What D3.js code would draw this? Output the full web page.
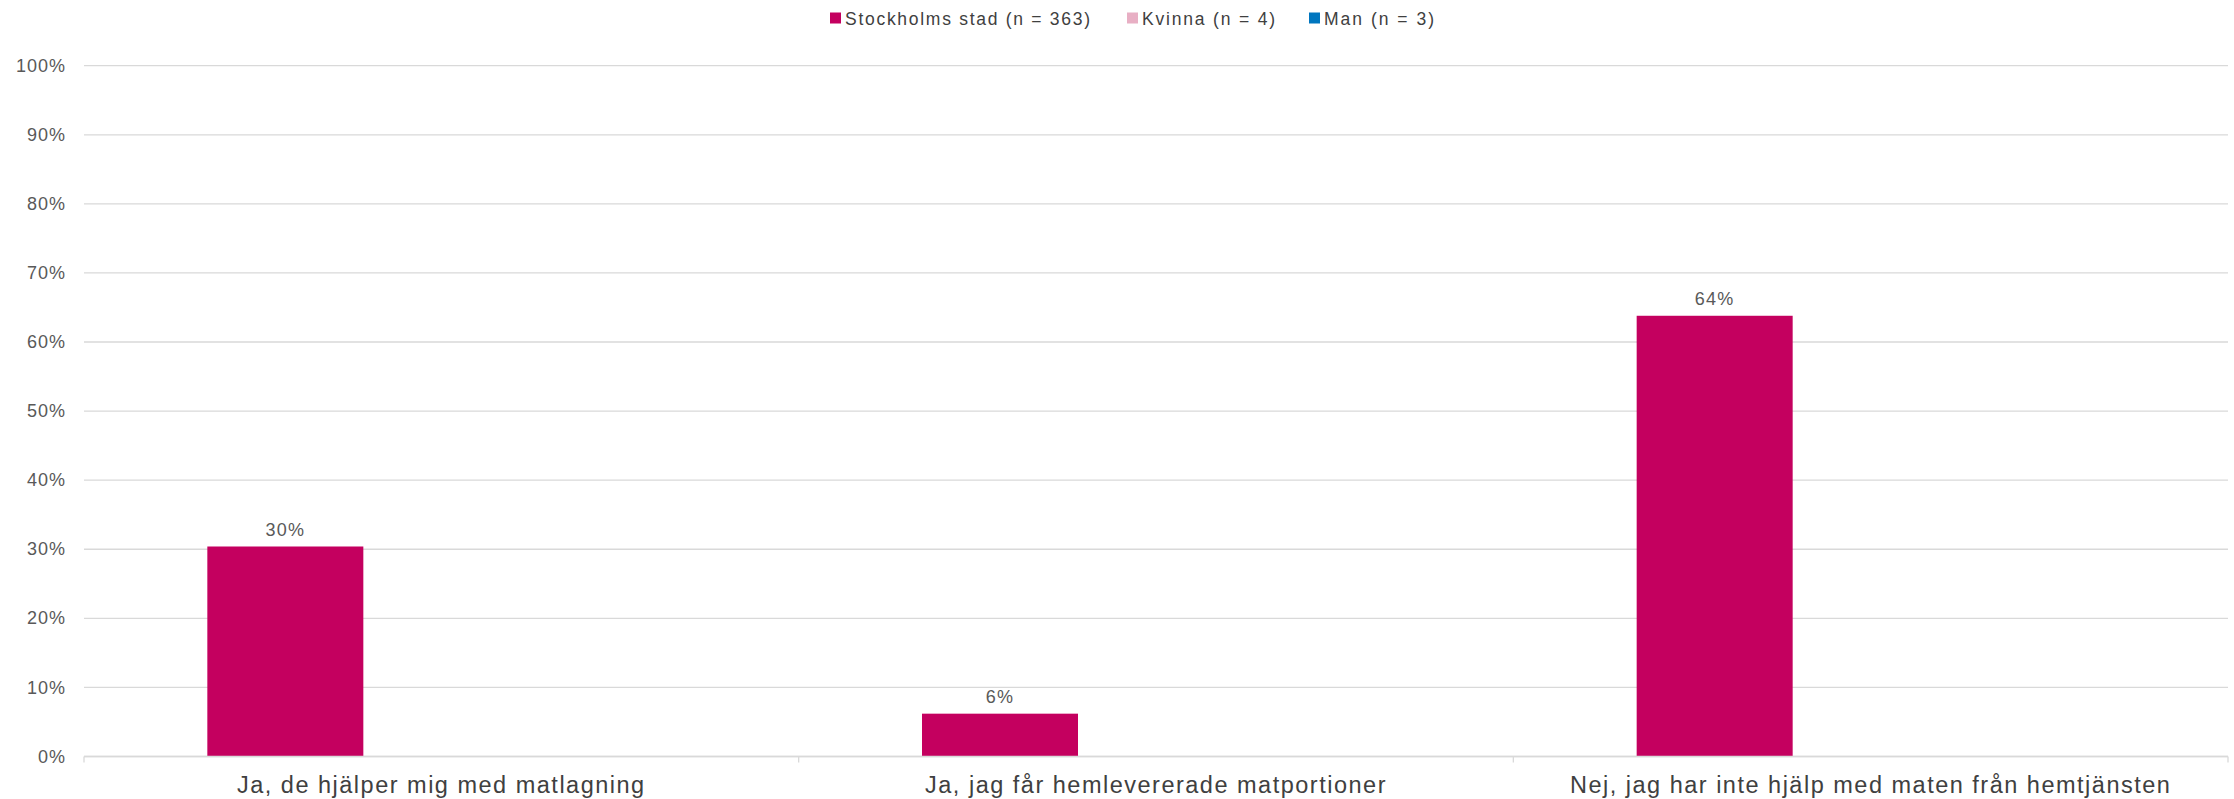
<!DOCTYPE html>
<html><head><meta charset="utf-8">
<script src="https://cdn.jsdelivr.net/npm/d3@7"></script>
<style>body{margin:0;background:#fff}svg{display:block;font-family:"Liberation Sans",Arial,sans-serif}</style>
</head><body><svg id="c" width="2234" height="799"></svg>
<script>
const categories = ["Ja, de hjälper mig med matlagning","Ja, jag får hemlevererade matportioner","Nej, jag har inte hjälp med maten från hemtjänsten"];
const seriesNames = ["Stockholms stad (n = 363)","Kvinna (n = 4)","Man (n = 3)"];
const stockholm = [30.4, 6.2, 63.8];
const kvinna = [0, 0, 0];
const man = [0, 0, 0];
const colors = ["#C4005F","#E8AFC4","#0076BF"];
const yTicks = [0,10,20,30,40,50,60,70,80,90,100];

const svg = d3.select("#c");
const m = {l:84, r:2228, t:65.7, b:756.5};
const x0 = d3.scaleBand().domain(categories).range([m.l, m.r]).paddingInner(0).paddingOuter(0);
const groupW = 468;
const x1 = d3.scaleBand().domain(seriesNames).range([0, groupW]);
const y = d3.scaleLinear().domain([0,100]).range([m.b, m.t]);

// grid
svg.append("g").selectAll("line").data(yTicks).join("line")
  .attr("x1", m.l).attr("x2", m.r).attr("y1", d=>y(d)).attr("y2", d=>y(d))
  .attr("stroke","#d9d9d9").attr("stroke-width",1.3);
// y labels
svg.append("g").selectAll("text").data(yTicks).join("text")
  .attr("x", 66).attr("y", d=>y(d)).attr("dy","0.34em").attr("text-anchor","end")
  .attr("fill","#595959").attr("font-size",18).attr("letter-spacing","1px").text(d=>d+"%");

const series = [stockholm, kvinna, man];
const g = svg.append("g");
categories.forEach((c,i)=>{
  const gx = x0(c) + (x0.bandwidth()-groupW)/2;
  series.forEach((vals,s)=>{
    const v = vals[i];
    if (v<=0) return;
    g.append("rect").attr("x", gx + x1(seriesNames[s])).attr("width", x1.bandwidth())
      .attr("y", y(v)).attr("height", y(0)-y(v)).attr("fill", colors[s]);
    g.append("text").attr("x", gx + x1(seriesNames[s]) + x1.bandwidth()/2).attr("y", y(v)-10.5)
      .attr("text-anchor","middle").attr("fill","#595959").attr("font-size",18).attr("letter-spacing","1.2px")
      .text(Math.round(v)+"%");
  });
});

// x axis
const ax = svg.append("g");
ax.append("line").attr("x1",m.l).attr("x2",m.r).attr("y1",m.b).attr("y2",m.b).attr("stroke","#d9d9d9").attr("stroke-width",1.3);
const bounds = categories.map(c=>x0(c)).concat([m.r]);
ax.selectAll("line.t").data(bounds).join("line").attr("class","t")
  .attr("x1",d=>d).attr("x2",d=>d).attr("y1",m.b).attr("y2",m.b+6).attr("stroke","#d9d9d9").attr("stroke-width",1.3);
ax.selectAll("text").data(categories).join("text")
  .attr("x",d=>x0(d)+x0.bandwidth()/2).attr("y",793).attr("text-anchor","middle")
  .attr("fill","#404040").attr("font-size",23.5).attr("letter-spacing","1.5px").text(d=>d);

// legend
const leg = svg.append("g");
const legX = [830, 1127, 1309];
const legW = [245, 133, 110];
seriesNames.forEach((n,i)=>{
  leg.append("rect").attr("x",legX[i]).attr("y",12.5).attr("width",11).attr("height",11).attr("fill",colors[i]);
  leg.append("text").attr("x",legX[i]+15).attr("y",24.5).attr("fill","#404040").attr("font-size",17.5)
    .attr("textLength",legW[i]).attr("lengthAdjust","spacing").text(n);
});
</script></body></html>
